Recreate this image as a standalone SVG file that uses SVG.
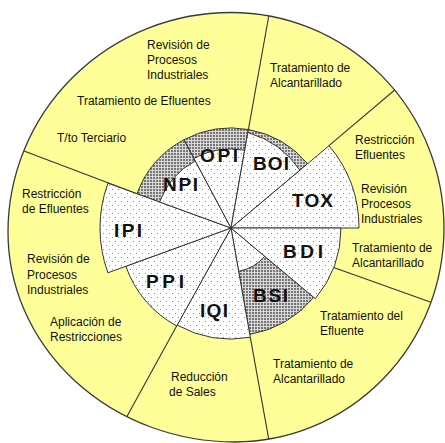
<svg xmlns="http://www.w3.org/2000/svg" width="445" height="443" viewBox="0 0 445 443">
<defs>
<pattern id="dots" width="6" height="8" patternUnits="userSpaceOnUse">
<rect width="6" height="8" fill="#ffffff"/>
<rect x="1" y="1" width="1" height="1" fill="#8a8a8a"/>
<rect x="4" y="5" width="1" height="1" fill="#8a8a8a"/>
</pattern>
<pattern id="hatch" width="3" height="3" patternUnits="userSpaceOnUse">
<rect width="3" height="3" fill="#d8d8d8"/>
<rect x="0" y="0" width="2" height="2" fill="#767676"/>
</pattern>
<clipPath id="outerClip">
<path d="M231,12.5 A213,215.5 0 0 1 444,228 A209,214 0 0 1 235,442 A227,210 0 0 1 8,232 A223,219.5 0 0 1 231,12.5 Z"/>
</clipPath>
</defs>
<style>
.outer{fill:#ffff99;stroke:#3a3a3a;stroke-width:1.3}
.h{fill:url(#hatch);stroke:#333;stroke-width:1}
.w{fill:url(#dots);stroke:#333;stroke-width:1}
.div{stroke:#333;stroke-width:1.1;fill:none}
.lab{font-family:"Liberation Sans",Arial,sans-serif;font-size:12px;fill:#111}
.in{font-family:"Liberation Sans",Arial,sans-serif;font-size:19px;font-weight:bold;fill:#111}
</style>

<g id="outer-ring">
<path class="outer" d="M231,12.5 A213,215.5 0 0 1 444,228 A209,214 0 0 1 235,442 A227,210 0 0 1 8,232 A223,219.5 0 0 1 231,12.5 Z"/>
</g>

<g id="connectors" clip-path="url(#outerClip)">
<line class="div" x1="137" y1="193.8" x2="24" y2="151"/>
<line class="div" x1="248.4" y1="129.5" x2="269.5" y2="12"/>
<line class="div" x1="329" y1="145.7" x2="400" y2="85.5"/>
<line class="div" x1="333.7" y1="267.4" x2="440" y2="305.5"/>
<line class="div" x1="250.3" y1="337.3" x2="270" y2="446"/>
<line class="div" x1="177.2" y1="325.1" x2="125" y2="420"/>
</g>

<g id="hatched-ring">
<path class="h" d="M231,228 L137,193.8 A100,100 0 0 1 184.05,139.7 Z"/>
<path class="h" d="M231,228 L184.05,139.7 A100,100 0 0 1 248.4,129.5 Z"/>
<path class="h" d="M231,228 L248.4,129.5 A100,100 0 0 1 307.6,163.7 Z"/>
</g>

<g id="node-BSI">
<path class="h" d="M231,228 L313.7,297.4 A108,108 0 0 1 249.8,334.4 Z"/>
<path class="w" d="M231,228 L264.7,256.3 A44,44 0 0 1 238.6,271.3 Z"/>
<text class="in" x="253" y="302" textLength="35" lengthAdjust="spacing">BSI</text>
</g>
<g id="node-TOX">
<path class="w" d="M231,228 L329.05,145.7 A128,128 0 0 1 359,228 Z"/>
<text class="in" x="292" y="207" textLength="41" lengthAdjust="spacing">TOX</text>
</g>
<g id="node-BDI">
<path class="w" d="M231,228 L341,228 A110,110 0 0 1 315.3,298.7 Z"/>
<text class="in" x="283" y="258" textLength="40" lengthAdjust="spacing">BDI</text>
</g>
<g id="node-IQI">
<path class="w" d="M231,228 L250.3,337.3 A111,111 0 0 1 177.2,325.1 Z"/>
<text class="in" x="200" y="317" textLength="28" lengthAdjust="spacing">IQI</text>
</g>
<g id="node-PPI">
<path class="w" d="M231,228 L176.7,326 A112,112 0 0 1 125.8,266.3 Z"/>
<text class="in" x="146" y="288" textLength="38" lengthAdjust="spacing">PPI</text>
</g>
<g id="node-IPI">
<path class="w" d="M231,228 L107.9,272.8 A131,131 0 0 1 107.9,183.2 Z"/>
<text class="in" x="114" y="237" textLength="28" lengthAdjust="spacing">IPI</text>
</g>
<g id="node-NPI">
<path class="w" d="M231,228 L159.6,202 A76,76 0 0 1 195.3,160.9 Z"/>
<text class="in" x="163" y="191" textLength="35" lengthAdjust="spacing">NPI</text>
</g>
<g id="node-OPI">
<path class="w" d="M231,228 L193.9,158.25 A79,79 0 0 1 244.7,150.2 Z"/>
<text class="in" x="200" y="162" textLength="38" lengthAdjust="spacing">OPI</text>
</g>
<g id="node-BOI">
<path class="w" d="M231,228 L247.8,132.5 A95,95 0 0 1 299.9,170.1 Z"/>
<text class="in" x="253" y="170" textLength="36" lengthAdjust="spacing">BOI</text>
</g>

<g id="label-top-left">
<text class="lab" x="147" y="49">Revisión de</text>
<text class="lab" x="147" y="64">Procesos</text>
<text class="lab" x="147" y="79">Industriales</text>
<text class="lab" x="77" y="105">Tratamiento de Efluentes</text>
<text class="lab" x="57" y="142">T/to Terciario</text>
</g>
<g id="label-left">
<text class="lab" x="22" y="198">Restricción</text>
<text class="lab" x="22" y="213">de Efluentes</text>
<text class="lab" x="27" y="263">Revisión de</text>
<text class="lab" x="27" y="279">Procesos</text>
<text class="lab" x="27" y="294">Industriales</text>
<text class="lab" x="50" y="326">Aplicación de</text>
<text class="lab" x="50" y="341">Restricciones</text>
</g>
<g id="label-bottom-left">
<text class="lab" x="171" y="381">Reducción</text>
<text class="lab" x="169" y="396">de Sales</text>
</g>
<g id="label-top-right">
<text class="lab" x="270" y="72">Tratamiento de</text>
<text class="lab" x="270" y="87">Alcantarillado</text>
</g>
<g id="label-right">
<text class="lab" x="355" y="144">Restricción</text>
<text class="lab" x="355" y="159">Efluentes</text>
<text class="lab" x="361" y="193">Revisión</text>
<text class="lab" x="361" y="208">Procesos</text>
<text class="lab" x="361" y="223">Industriales</text>
<text class="lab" x="352" y="252">Tratamiento de</text>
<text class="lab" x="352" y="267">Alcantarillado</text>
</g>
<g id="label-bottom-right">
<text class="lab" x="320" y="320">Tratamiento del</text>
<text class="lab" x="320" y="335">Efluente</text>
<text class="lab" x="273" y="368">Tratamiento de</text>
<text class="lab" x="273" y="383">Alcantarillado</text>
</g>
</svg>
